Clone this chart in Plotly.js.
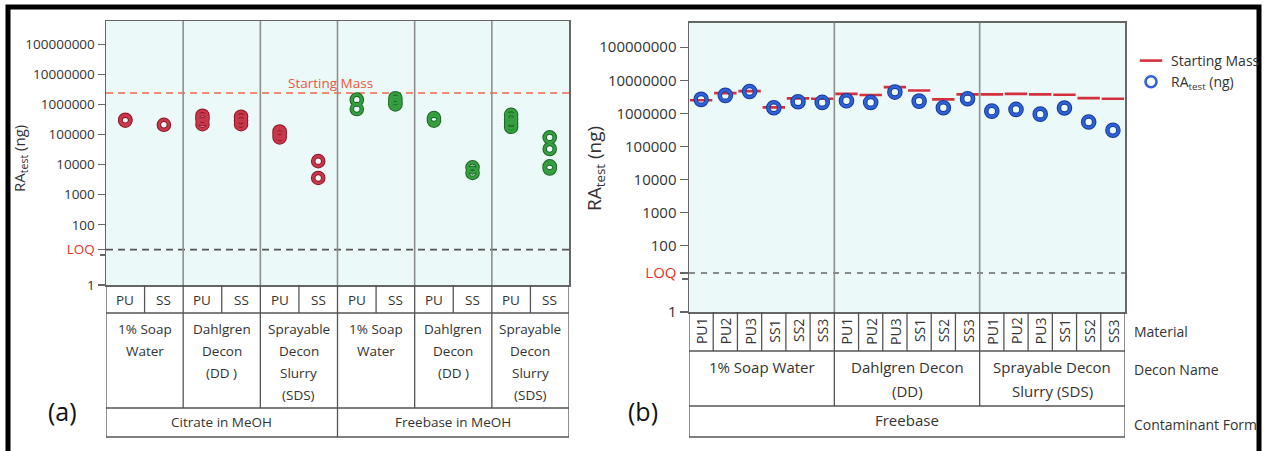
<!DOCTYPE html>
<html><head><meta charset="utf-8">
<script src="https://cdn.plot.ly/plotly-3.0.1.min.js"></script>
<style>html,body{margin:0;padding:0;background:#fff;} #chart{width:1265px;height:451px;}</style>
</head><body><div id="chart"></div>
<script>
// ---------------- data ----------------
const materialA = ['PU','SS','PU','SS','PU','SS','PU','SS','PU','SS','PU','SS'];
const deconA = ['1% Soap<br>Water','Dahlgren<br>Decon<br>(DD )','Sprayable<br>Decon<br>Slurry<br>(SDS)','1% Soap<br>Water','Dahlgren<br>Decon<br>(DD )','Sprayable<br>Decon<br>Slurry<br>(SDS)'];
const formA = ['Citrate in MeOH','Freebase in MeOH'];
const citrateCol = [0,0,1,2,2,2,3,3,3,4,4,4,5,5];
const citrateRA = [310000,290000,210000,420000,320000,220000,390000,290000,220000,126000,105000,80000,13000,3600];
const freebaseCol = [6,6,7,7,7,8,8,9,9,10,10,10,10,11,11,11,11];
const freebaseRA = [1440000,700000,1600000,1230000,1000000,350000,290000,8100,5300,450000,330000,230000,180000,80000,33000,8700,7400];
const startingMassA = 2400000;
const loqValue = 15;
const yTickVals = [1,15,100,1000,10000,100000,1000000,10000000,100000000];
const yTickText = ['1','<span style="color:#e8302a">LOQ</span>','100','1000','10000','100000','1000000','10000000','100000000'];
const yMinorVals = [10];

const materialB = ['PU1','PU2','PU3','SS1','SS2','SS3','PU1','PU2','PU3','SS1','SS2','SS3','PU1','PU2','PU3','SS1','SS2','SS3'];
const deconB = ['1% Soap Water','Dahlgren Decon<br>(DD)','Sprayable Decon<br>Slurry (SDS)'];
const formB = ['Freebase'];
const raTestB = [2650000,3500000,4600000,1480000,2240000,2150000,2400000,2150000,4400000,2350000,1480000,2770000,1170000,1320000,950000,1450000,550000,310000];
const startingMassB = [2500000,4100000,4700000,1520000,2840000,2770000,3900000,3600000,6200000,4900000,2650000,3750000,3750000,3900000,3750000,3650000,2900000,2770000];
const rowLabelsB = ['Material','Decon Name','Contaminant Form'];
const panelLabels = ['(a)','(b)'];
const yTitle = 'RA<sub>test</sub> (ng)';

// ---------------- geometry helpers ----------------
const W = 1265, H = 451;
const fx = x => x / W, fy = y => 1 - y / H;
const FONT = 'Open Sans, Noto Sans, sans-serif';
const TXT = '#333';
const A = {x0:106, x1:569, top:21, bot:285, rows:[285,313,408,437], dec:30.1};
const B = {x0:689, x1:1125, top:22.7, bot:312, rows:[312,351,406,437], dec:33.1};

const nA = materialA.length, nB = materialB.length;
const perDeconA = nA / deconA.length, perFormA = nA / formA.length;
const perDeconB = nB / deconB.length, perFormB = nB / formB.length;
const idxB = materialB.map((_, i) => i);

function ring(x, y, xa, ya, dark, light, size, name, legend) {
  return [
    {x, y, xaxis:xa, yaxis:ya, type:'scatter', mode:'markers', showlegend:false, hoverinfo:'skip', name:'ring',
     marker:{symbol:'circle-open', size:size, color:dark, line:{width:4.6, color:dark}}},
    {x, y, xaxis:xa, yaxis:ya, type:'scatter', mode:'markers', name:name || 'ring', showlegend:!!legend,
     marker:{symbol:'circle-open', size:size, color:light, line:{width:2.6, color:light}}}
  ];
}

const traces = [];
traces.push({x:[-0.5, nA-0.5], y:[startingMassA, startingMassA], xaxis:'x', yaxis:'y', mode:'lines', showlegend:false, name:'start',
  line:{color:'#ee6a4a', width:1.6, dash:'7px,5px'}});
traces.push({x:[-0.5, nA-0.5], y:[loqValue, loqValue], xaxis:'x', yaxis:'y', mode:'lines', showlegend:false, name:'loq',
  line:{color:'#555', width:1.6, dash:'7px,5px'}});
traces.push(...ring(citrateCol, citrateRA, 'x', 'y', '#8c1526', '#c9394b', 10));
traces.push(...ring(freebaseCol, freebaseRA, 'x', 'y', '#1c6424', '#34a040', 10));
traces.push({x:[-0.5, nB-0.5], y:[loqValue, loqValue], xaxis:'x2', yaxis:'y2', mode:'lines', showlegend:false, name:'loq',
  line:{color:'#666', width:1.4, dash:'6px,6px'}});
traces.push({x:idxB, y:startingMassB, xaxis:'x2', yaxis:'y2', mode:'markers', name:'Starting Mass',
  marker:{symbol:'line-ew', size:16, color:'#d5303e', line:{width:2.6, color:'#d5303e'}}});
traces.push(...ring(idxB, raTestB, 'x2', 'y2', '#183a98', '#2d62d8', 11, yTitle, true));

// ---------------- shapes ----------------
const shapes = [];
function vl(xref, x, y0, y1, color, width) {
  shapes.push({type:'line', xref, yref:'paper', x0:x, x1:x, y0:fy(y0), y1:fy(y1), line:{color, width}});
}
function hl(xref, x0, x1, y, color, width) {
  shapes.push({type:'line', xref, yref:'paper', x0, x1, y0:fy(y), y1:fy(y), line:{color, width}});
}
const TL = '#555', TW = 1.3, SEP = '#8f8f8f';
[A.rows[1], A.rows[2], A.rows[3]].forEach(y => hl('x', -0.5, nA-0.5, y, TL, TW));
vl('x', -0.5, A.rows[0], A.rows[3], TL, TW); vl('x', nA-0.5, A.rows[0], A.rows[3], TL, TW);
for (let i = 1; i < nA; i++) vl('x', i-0.5, A.rows[0], A.rows[1], TL, TW);
for (let g = 1; g < deconA.length; g++) vl('x', g*perDeconA-0.5, A.rows[1], A.rows[2], TL, TW);
for (let f = 1; f < formA.length; f++) vl('x', f*perFormA-0.5, A.rows[2], A.rows[3], TL, TW);
for (let g = 1; g < deconA.length; g++) vl('x', g*perDeconA-0.5, A.top, A.bot, SEP, 1.6);
[B.rows[1], B.rows[2], B.rows[3]].forEach(y => hl('x2', -0.5, nB-0.5, y, TL, TW));
vl('x2', -0.5, B.rows[0], B.rows[3], TL, TW); vl('x2', nB-0.5, B.rows[0], B.rows[3], TL, TW);
for (let i = 1; i < nB; i++) vl('x2', i-0.5, B.rows[0], B.rows[1], TL, TW);
for (let g = 1; g < deconB.length; g++) vl('x2', g*perDeconB-0.5, B.rows[1], B.rows[2], TL, TW);
for (let g = 1; g < deconB.length; g++) vl('x2', g*perDeconB-0.5, B.top, B.bot, SEP, 1.6);
shapes.push({type:'rect', xref:'paper', yref:'paper', x0:fx(8), x1:fx(1259), y0:fy(7), y1:fy(470), layer:'above',
  line:{color:'#000', width:5}});

// ---------------- annotations ----------------
const ann = [];
function t(text, xref, x, y, size, opts) {
  ann.push(Object.assign({text, xref, x, yref:'paper', y:fy(y), showarrow:false,
    font:{family:FONT, size, color:TXT}, xanchor:'center', yanchor:'middle'}, opts || {}));
}
materialA.forEach((m, i) => t(m, 'x', i, 299.5, 13.5));
deconA.forEach((d, g) => d.split('<br>').forEach((line, j) =>
  t(line, 'x', g*perDeconA + (perDeconA-1)/2, 329 + 22*j, 13.5)));
formA.forEach((f, k) => t(f, 'x', k*perFormA + (perFormA-1)/2, 422, 13.5));
materialB.forEach((m, i) => t(m, 'x2', i, 331, 14, {textangle:-90}));
deconB.forEach((d, g) => d.split('<br>').forEach((line, j) =>
  t(line, 'x2', g*perDeconB + (perDeconB-1)/2, 366.7 + 24*j, 15)));
formB.forEach((f, k) => t(f, 'x2', k*perFormB + (perFormB-1)/2, 420, 15));
[331.7, 369, 424].forEach((y, k) => t(rowLabelsB[k], 'paper', fx(1132), y, 14, {xanchor:'left'}));
ann.push({text:'Starting Mass', xref:'x', x:5.31, yref:'y', y:Math.log10(startingMassA), yanchor:'bottom', yshift:-1,
  showarrow:false, font:{family:FONT, size:13.5, color:'#e8583a'}});
t(yTitle, 'paper', fx(20), 159, 15, {textangle:-90});
t(yTitle, 'paper', fx(595), 169, 19, {textangle:-90});
t(panelLabels[0], 'paper', fx(63), 411, 25, {font:{family:FONT, size:25, color:'#111'}});
t(panelLabels[1], 'paper', fx(643), 411, 25, {font:{family:FONT, size:25, color:'#111'}});

// ---------------- layout ----------------
const axLine = {showline:true, mirror:true, linecolor:'#666', linewidth:1.5, showgrid:false, zeroline:false};
const layout = {
  width:W, height:H, margin:{l:0, r:0, t:0, b:0, autoexpand:false}, paper_bgcolor:'#fff', plot_bgcolor:'#ebf9f8',
  font:{family:FONT, color:TXT},
  showlegend:true,
  legend:{x:fx(1131), y:fy(45), xanchor:'left', yanchor:'top', bgcolor:'rgba(0,0,0,0)',
    font:{family:FONT, size:14, color:TXT}, itemwidth:30, tracegroupgap:0},
  xaxis:Object.assign({domain:[fx(A.x0), fx(A.x1)], range:[-0.5, nA-0.5], showticklabels:false, ticks:'', anchor:'y', fixedrange:true, automargin:false}, axLine),
  yaxis:Object.assign({domain:[fy(A.bot), fy(A.top)], type:'log', range:[0, (A.bot-A.top)/A.dec], anchor:'x', automargin:false,
    tickvals:yTickVals, ticktext:yTickText, ticks:'outside', ticklen:7, tickcolor:'#666', tickwidth:1.3,
    minor:{tickvals:yMinorVals, ticks:'outside', ticklen:5, tickcolor:'#666', tickwidth:1.3, showgrid:false},
    tickfont:{family:FONT, size:13.5, color:TXT}}, axLine),
  xaxis2:Object.assign({domain:[fx(B.x0), fx(B.x1)], range:[-0.5, nB-0.5], showticklabels:false, ticks:'', anchor:'y2', fixedrange:true, automargin:false}, axLine),
  yaxis2:Object.assign({domain:[fy(B.bot), fy(B.top)], type:'log', range:[0, (B.bot-B.top)/B.dec], anchor:'x2', automargin:false,
    tickvals:yTickVals, ticktext:yTickText, ticks:'outside', ticklen:8, tickcolor:'#666', tickwidth:1.3,
    minor:{tickvals:yMinorVals, ticks:'outside', ticklen:6, tickcolor:'#666', tickwidth:1.3, showgrid:false},
    tickfont:{family:FONT, size:15, color:TXT}}, axLine),
  shapes, annotations:ann
};
Plotly.newPlot('chart', traces, layout, {displayModeBar:false, staticPlot:true});
</script></body></html>
